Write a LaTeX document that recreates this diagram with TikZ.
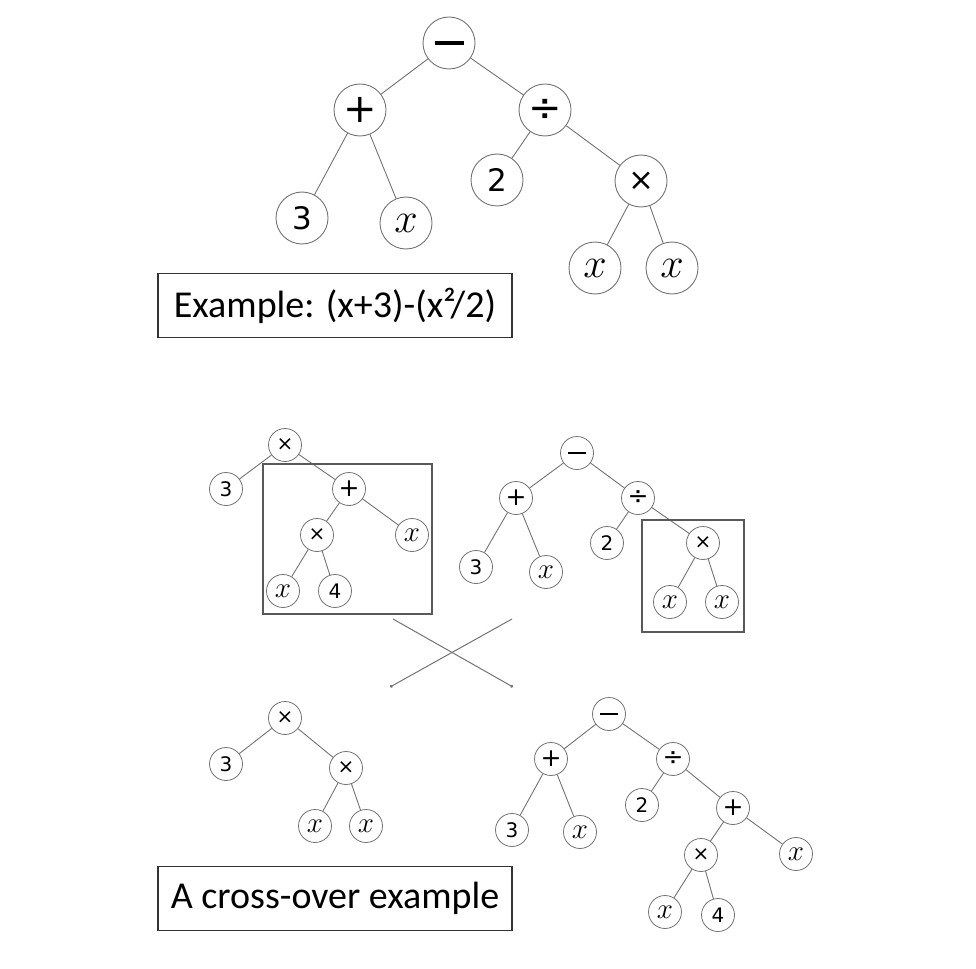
\documentclass[tikz,border=0pt]{standalone}
\usepackage{fix-cm}
\usepackage{fontspec}
\setmainfont{Carlito}
\newfontfamily\dv{DejaVu Sans}
\usetikzlibrary{arrows.meta}
\newcommand\Dg[1]{{\dv\fontsize{\dsz}{\dsz}\selectfont #1}}
\newcommand\Op[1]{{\dv\fontsize{\osz}{\osz}\selectfont #1}}
\newcommand\Tm{{\dv\fontsize{\tsz}{\tsz}\selectfont ×}}
\newcommand\Vx{{\fontsize{\xsz}{\xsz}\selectfont$x$}}
\newcommand\Mn{\rule[-\mnh]{\mnw}{\mnh}}
\tikzset{
  big/.style={circle,draw=black!55,line width=0.9pt,minimum size=52pt,inner sep=0pt,
    execute at begin node={\def\dsz{31}\def\osz{40}\def\tsz{31}\def\xsz{42}\def\mnw{29pt}\def\mnh{4pt}}},
  sm/.style={circle,draw=black!55,line width=0.8pt,minimum size=33pt,inner sep=0pt,
    execute at begin node={\def\dsz{20}\def\osz{25}\def\tsz{20}\def\xsz{29}\def\mnw{18pt}\def\mnh{2.8pt}}},
  edge/.style={draw=black!55,line width=0.9pt},
  lbl/.style={draw=black!80,line width=1.2pt,minimum width=354pt,minimum height=64pt,inner sep=0pt,
    font=\fontsize{38}{40}\selectfont},
  sel/.style={draw=black!65,line width=1.5pt},
  cross/.style={draw=black!55,line width=1pt,-{Circle[length=3pt]}}
}
\begin{document}
\begin{tikzpicture}[x=1pt,y=-1pt]
\useasboundingbox (0,0) rectangle (976,968);
% top tree
\node[big] (tm) at (449,43) {\Mn};
\node[big] (tp) at (360,110) {\Op{+}};
\node[big] (td) at (545,110) {\Op{÷}};
\node[big] (t3) at (302,218) {\Dg{3}};
\node[big] (tx1) at (406,223) {\Vx};
\node[big] (t2) at (497,180) {\Dg{2}};
\node[big] (tt) at (641,181) {\Tm};
\node[big] (tx2) at (595,268) {\Vx};
\node[big] (tx3) at (672,268) {\Vx};
\draw[edge] (tm)--(tp) (tm)--(td) (tp)--(t3) (tp)--(tx1) (td)--(t2) (td)--(tt) (tt)--(tx2) (tt)--(tx3);
\node[lbl] (lab1) at (335,305.5) {Example: (x+3)-(x²/2)};
% middle left tree
\node[sm] (a1) at (285,445) {\Tm};
\node[sm] (a3) at (226,489) {\Dg{3}};
\node[sm] (ap) at (349,489) {\Op{+}};
\node[sm] (at) at (317,535) {\Tm};
\node[sm] (ax1) at (412,535) {\Vx};
\node[sm] (ax2) at (283,591) {\Vx};
\node[sm] (a4) at (335,591) {\Dg{4}};
\draw[edge] (a1)--(a3) (a1)--(ap) (ap)--(at) (ap)--(ax1) (at)--(ax2) (at)--(a4);
\draw[sel] (263,464) rectangle (432,614);
% middle right tree
\node[sm] (bm) at (577,453) {\Mn};
\node[sm] (bp) at (516,498) {\Op{+}};
\node[sm] (bd) at (638,498) {\Op{÷}};
\node[sm] (b3) at (476,567) {\Dg{3}};
\node[sm] (bx1) at (546,572) {\Vx};
\node[sm] (b2) at (607,543) {\Dg{2}};
\node[sm] (bt) at (703,543) {\Tm};
\node[sm] (bx2) at (670,602) {\Vx};
\node[sm] (bx3) at (722,602) {\Vx};
\draw[edge] (bm)--(bp) (bm)--(bd) (bp)--(b3) (bp)--(bx1) (bd)--(b2) (bd)--(bt) (bt)--(bx2) (bt)--(bx3);
\draw[sel] (642,520) rectangle (744,632);
% cross-over lines
\coordinate (l1s) at (393,619);
\coordinate (l1e) at (513,687);
\coordinate (l2s) at (512,619);
\coordinate (l2e) at (390,687);
\draw[cross] (l1s)--(l1e);
\draw[cross] (l2s)--(l2e);
% bottom left tree
\node[sm] (c1) at (285,718) {\Tm};
\node[sm] (c3) at (226,764) {\Dg{3}};
\node[sm] (ct) at (346,768) {\Tm};
\node[sm] (cx1) at (315,826) {\Vx};
\node[sm] (cx2) at (366,826) {\Vx};
\draw[edge] (c1)--(c3) (c1)--(ct) (ct)--(cx1) (ct)--(cx2);
% bottom right tree
\node[sm] (dm) at (609,714) {\Mn};
\node[sm] (dp) at (551,759) {\Op{+}};
\node[sm] (dd) at (673,759) {\Op{÷}};
\node[sm] (d3) at (512,830) {\Dg{3}};
\node[sm] (dx1) at (580,832) {\Vx};
\node[sm] (d2) at (642,805) {\Dg{2}};
\node[sm] (dp2) at (733,808) {\Op{+}};
\node[sm] (dt) at (701,855) {\Tm};
\node[sm] (dx2) at (796,854) {\Vx};
\node[sm] (dx3) at (665,912) {\Vx};
\node[sm] (d4) at (718,915) {\Dg{4}};
\draw[edge] (dm)--(dp) (dm)--(dd) (dp)--(d3) (dp)--(dx1) (dd)--(d2) (dd)--(dp2) (dp2)--(dt) (dp2)--(dx2) (dt)--(dx3) (dt)--(d4);
\node[lbl] (lab2) at (335,898.5) {A cross-over example};
\end{tikzpicture}
\end{document}
